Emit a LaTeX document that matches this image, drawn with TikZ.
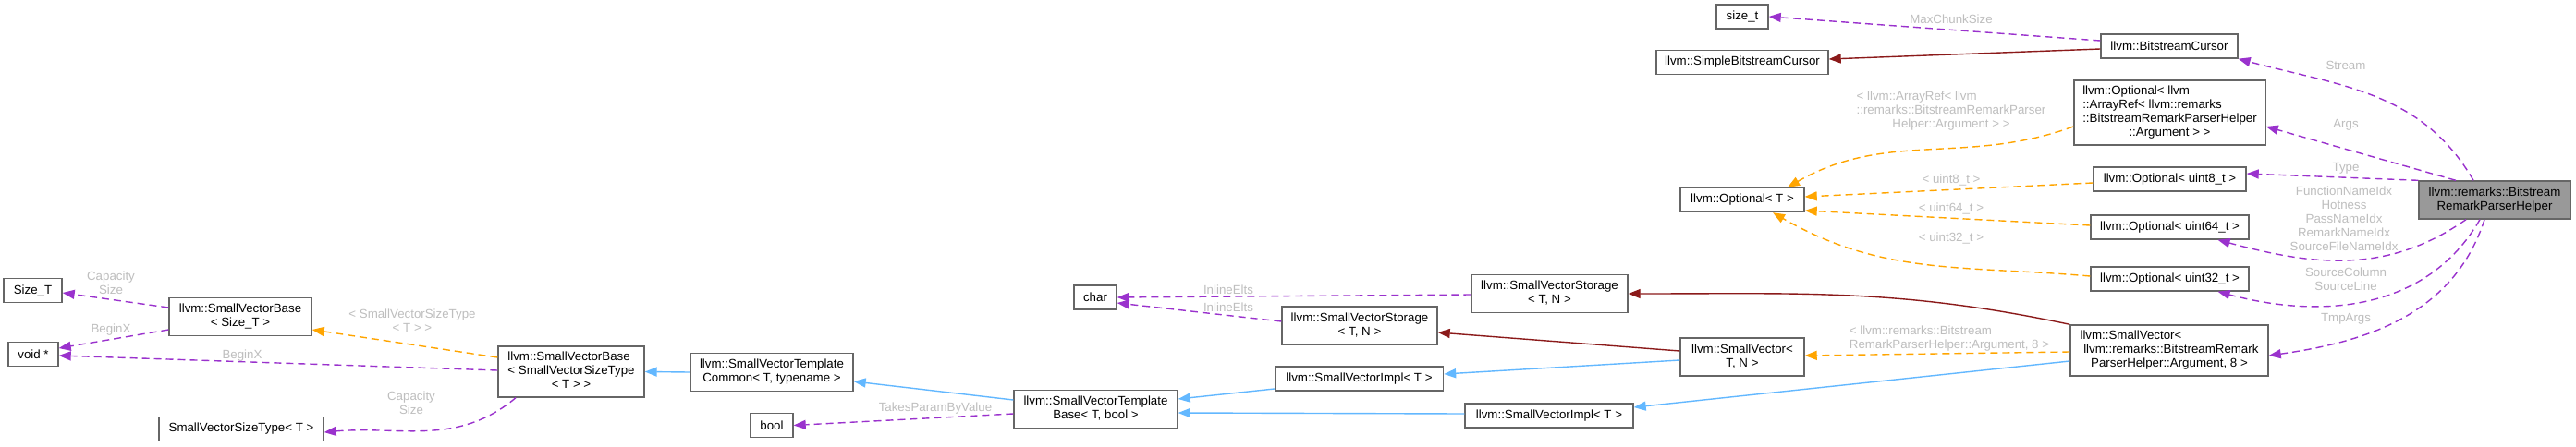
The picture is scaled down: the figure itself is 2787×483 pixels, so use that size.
\documentclass[tikz,border=0pt]{standalone}
\usepackage{fontspec}
\setmainfont{Liberation Sans}
\usetikzlibrary{arrows.meta}
\definecolor{edgegray}{RGB}{102,102,102}
\definecolor{rootgray}{RGB}{153,153,153}
\definecolor{lblgray}{RGB}{190,190,190}
\definecolor{memcolor}{RGB}{154,50,205}
\definecolor{tplcolor}{RGB}{255,165,0}
\definecolor{prvcolor}{RGB}{139,26,26}
\definecolor{pubcolor}{RGB}{99,184,255}
\newcommand{\lns}[2]{\begin{tabular}{@{}l@{}}#1\\\multicolumn{1}{@{}c@{}}{#2}\end{tabular}}

\begin{document}
\begin{tikzpicture}[x=1pt,y=1pt,
  cls/.style={draw=edgegray,line width=1.4pt,fill=white,inner sep=0pt,font=\fontsize{13.3}{15}\selectfont},
  lbl/.style={text=lblgray,inner sep=0pt,align=center,font=\fontsize{13.3}{15}\selectfont},
  lnk/.style={line width=1.4pt,-{Triangle[length=13pt,width=10pt]}},
  mem/.style={lnk,draw=memcolor,dash pattern=on 8pt off 5pt},
  tpl/.style={lnk,draw=tplcolor,dash pattern=on 8pt off 5pt},
  prv/.style={lnk,draw=prvcolor},
  pub/.style={lnk,draw=pubcolor}]
  \fill[white] (0,0) rectangle (2787,-483);
  \useasboundingbox (0,0) rectangle (2787,-483);
  \foreach \nm/\x/\y/\w/\h/\txt in {
    sizet/1885/18/56/26/{size\_t},
    simple/1885/67.5/186/26/{llvm::SimpleBitstreamCursor},
    cursor/2347/50/148/26/{llvm::BitstreamCursor},
    optarr/2347.5/122/207/70/{\lns{llvm::Optional< llvm\\::ArrayRef< llvm::remarks\\::BitstreamRemarkParserHelper}{::Argument > >}},
    opt8/2347.5/194/165/26/{llvm::Optional< uint8\_t >},
    opt64/2347.5/246/171/26/{llvm::Optional< uint64\_t >},
    opt32/2347.5/302/171/26/{llvm::Optional< uint32\_t >},
    svarg/2347/379.5/214/55/{\lns{llvm::SmallVector<\\\ llvm::remarks::BitstreamRemark}{ParserHelper::Argument, 8 >}},
    optT/1885/216.5/134/26/{llvm::Optional< T >},
    svTN/1885/386.5/134/41/{\lns{llvm::SmallVector<}{T, N >}},
    storA/1676.5/318/169/41/{\lns{llvm::SmallVectorStorage}{< T, N >}},
    storB/1471/352.5/168/41/{\lns{llvm::SmallVectorStorage}{< T, N >}},
    implA/1470.5/410/182/26/{llvm::SmallVectorImpl< T >},
    implB/1676/450/182/26/{llvm::SmallVectorImpl< T >},
    charn/1185/322/46/26/{char},
    tbase/1185.5/443/177/41/{\lns{llvm::SmallVectorTemplate}{Base< T, bool >}},
    tcommon/835/403/176/41/{\lns{llvm::SmallVectorTemplate}{Common< T, typename >}},
    booln/835/460.5/46/26/{bool},
    svbase/618/402.5/158/55/{\lns{llvm::SmallVectorBase\\< SmallVectorSizeType}{< T > >}},
    svbaseT/260/343/154/41/{\lns{llvm::SmallVectorBase}{< Size\_T >}},
    sizeT/35.5/314.5/63/26/{Size\_T},
    voidp/36/383.5/54/26/{void *},
    svsize/261/464.5/178/26/{SmallVectorSizeType< T >}}
    \node[cls,minimum width=\w,minimum height=\h] (\nm) at (\x,-\y) {\txt};
  \node[cls,fill=rootgray,minimum width=164,minimum height=41] (helper) at (2699,-216.5)
    {\lns{llvm::remarks::Bitstream}{RemarkParserHelper}};

  \foreach \nm/\x/\y/\txt in {
    lmax/2111/21/MaxChunkSize, lstream/2538/71/Stream, largs/2538/135/Args, ltype/2538/182/Type,
    larr/2111/120/{\lns{< llvm::ArrayRef< llvm\\::remarks::BitstreamRemarkParser}{Helper::Argument > >}},
    lu8/2111/195/{< uint8\_t >}, lu64/2111/226/{< uint64\_t >}, lu32/2111/258/{< uint32\_t >},
    lidx/2536/236.7/{FunctionNameIdx\\Hotness\\PassNameIdx\\RemarkNameIdx\\SourceFileNameIdx},
    lsrc/2538/302/{SourceColumn\\SourceLine}, ltmp/2538/345.7/TmpArgs,
    lsvarg/2109/367/{\lns{< llvm::remarks::Bitstream}{RemarkParserHelper::Argument, 8 >}},
    linA/1329/314/InlineElts, linB/1329/333/InlineElts, ltake/1012/442/TakesParamByValue,
    lsvst/446/347.5/{< SmallVectorSizeType\\< T > >},
    lbegA/120/357/BeginX, lbegB/262/385/BeginX,
    lcapA/120/306/{Capacity\\Size}, lcapB/445/436.5/{Capacity\\Size}}
    \node[lbl] (\nm) at (\x,-\y) {\txt};

  \draw[mem] ([yshift=6]cursor.west) -- (sizet.east);
  \draw[prv] ([yshift=-3]cursor.west) -- ([yshift=3.5]simple.east);
  \draw[mem] ([xshift=-23]helper.north) to[out=120,in=-15] (cursor.south east);
  \draw[mem] ([xshift=-42]helper.north) -- ([yshift=-15]optarr.east);
  \draw[mem] (helper.north west) -- ([yshift=6]opt8.east);
  \draw[mem] ([xshift=-31]helper.south) to[out=-145,in=-15] ([xshift=52]opt64.south);
  \draw[mem] ([xshift=-16]helper.south) to[out=-120,in=-15] ([xshift=52]opt32.south);
  \draw[mem] ([xshift=-11]helper.south) to[out=-108,in=8] ([yshift=-5.5]svarg.east);
  \draw[tpl] ([yshift=-15]optarr.west) to[out=-160,in=30] ([xshift=49]optT.north);
  \draw[tpl] ([yshift=-4]opt8.west) -- ([yshift=3.5]optT.east);
  \draw[tpl] ([yshift=2]opt64.west) -- ([yshift=-11.5]optT.east);
  \draw[tpl] ([yshift=3]opt32.west) to[out=175,in=-30] ([xshift=33]optT.south);
  \draw[tpl] ([yshift=-1.5]svarg.west) -- ([yshift=1.5]svTN.east);
  \draw[prv] (svarg.north west) to[out=168,in=0] (storA.east);
  \draw[pub] ([yshift=-11.5]svarg.west) -- ([yshift=9]implB.east);
  \draw[prv] ([yshift=6.5]svTN.west) -- ([yshift=-7.5]storB.east);
  \draw[pub] ([yshift=-3.5]svTN.west) -- ([yshift=5]implA.east);
  \draw[pub] ([yshift=-11]implA.west) -- ([yshift=11]tbase.east);
  \draw[pub] ([yshift=2]implB.west) -- ([yshift=-4]tbase.east);
  \draw[pub] ([yshift=10]tbase.west) -- ([yshift=-10]tcommon.east);
  \draw[mem] ([yshift=-5]tbase.west) -- (booln.east);
  \draw[pub] (tcommon.west) -- (svbase.east);
  \draw[tpl] ([yshift=15.5]svbase.west) -- ([yshift=-14]svbaseT.east);
  \draw[mem] ([yshift=1.5]svbase.west) -- ([yshift=-1.5]voidp.east);
  \draw[mem] ([xshift=-60]svbase.south) to[out=-140,in=5] ([yshift=-3.5]svsize.east);
  \draw[mem] ([yshift=-14]svbaseT.west) -- ([yshift=6.5]voidp.east);
  \draw[mem] ([yshift=10]svbaseT.west) -- ([yshift=-2.5]sizeT.east);
  \draw[mem] ([yshift=-1]storA.west) -- (charn.east);
  \draw[mem] ([yshift=4.5]storB.west) -- ([yshift=-6]charn.east);
\end{tikzpicture}
\end{document}
